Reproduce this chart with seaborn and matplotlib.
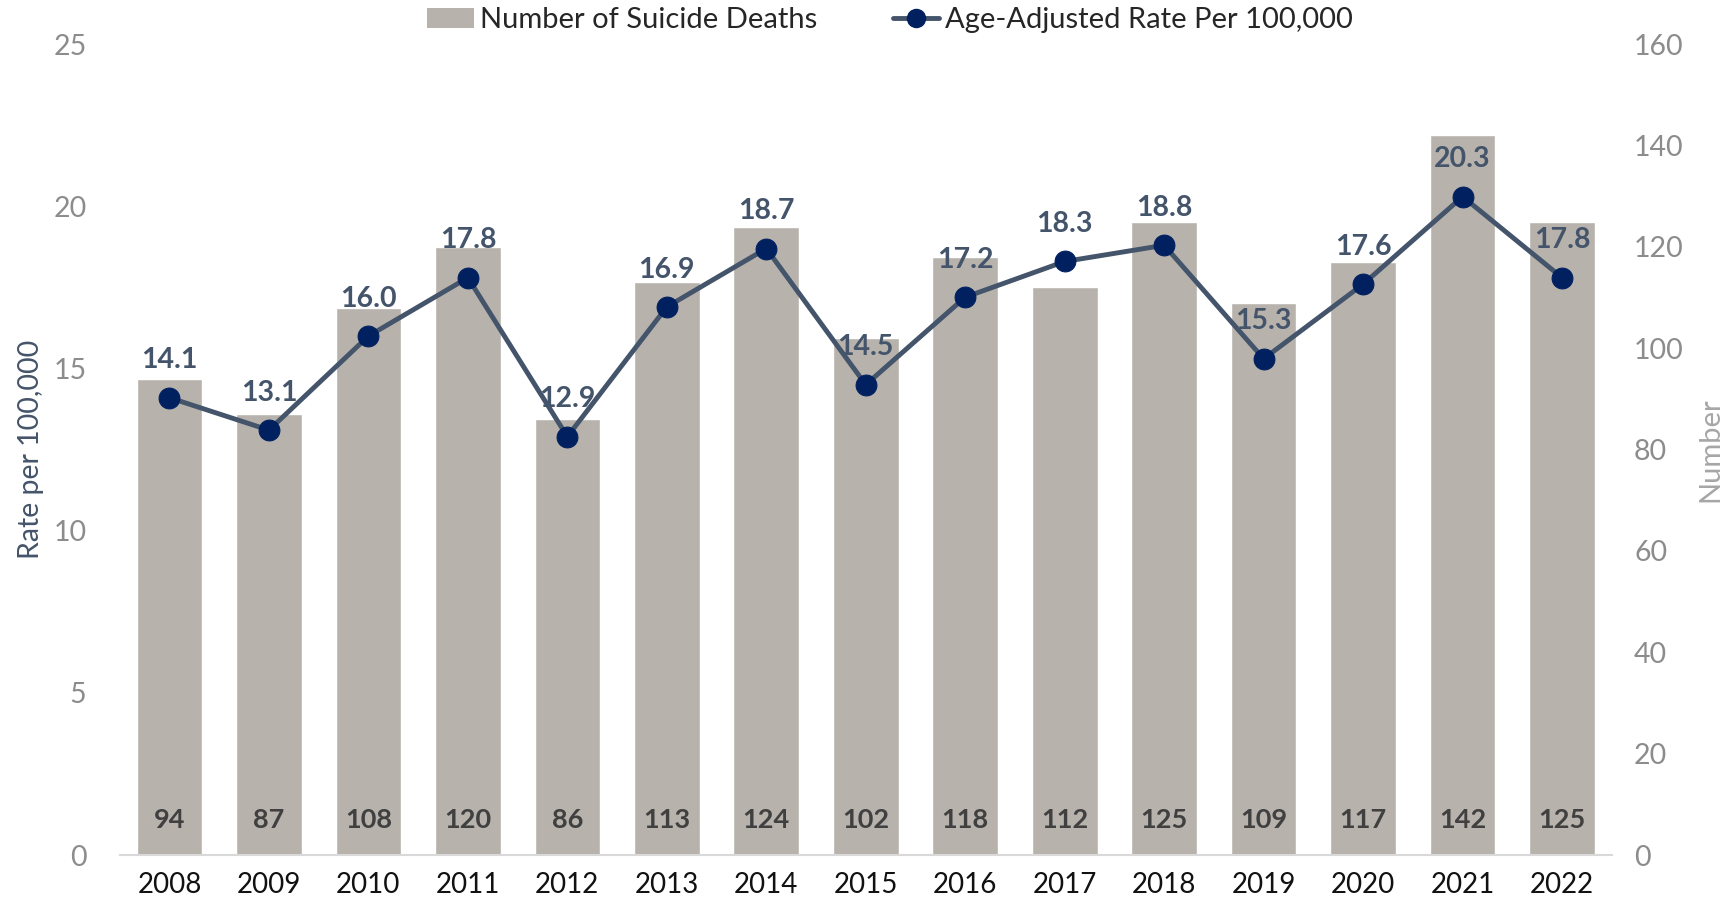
import numpy as np
import pandas as pd
import seaborn as sns
import matplotlib.pyplot as plt
from matplotlib.patches import Patch
from matplotlib.lines import Line2D

# Data
years = ['2008', '2009', '2010', '2011', '2012', '2013', '2014', '2015',
         '2016', '2017', '2018', '2019', '2020', '2021', '2022']
deaths = [94, 87, 108, 120, 86, 113, 124, 102, 118, 112, 125, 109, 117, 142, 125]
rates = [14.1, 13.1, 16.0, 17.8, 12.9, 16.9, 18.7, 14.5, 17.2, 18.3, 18.8,
         15.3, 17.6, 20.3, 17.8]

df = pd.DataFrame({'year': years, 'deaths': deaths, 'rate': rates})
df['pos'] = np.arange(len(df))

sns.set_style('white')
plt.rcParams['font.family'] = ['Lato', 'DejaVu Sans']

bar_col = '#B7B2AC'
line_col = '#44546A'
marker_col = '#002060'
tick_gray = '#8C8C8C'

fig = plt.figure(figsize=(17.35, 9.09), dpi=100)
ax_bar = fig.add_axes([0.069, 0.0594, 0.86, 0.892])

# Bars (number of deaths)
sns.barplot(data=df, x='year', y='deaths', color=bar_col, saturation=1,
            width=0.66, ax=ax_bar)
ax_bar.set_ylim(0, 160)
ax_bar.set_yticks(range(0, 161, 20))
ax_bar.set_xlabel('')
ax_bar.set_xlim(-0.5, len(df) - 0.5)
ax_bar.tick_params(axis='x', labelsize=20, colors='#111111', length=0, pad=12)

for i, v in enumerate(df['deaths']):
    ax_bar.text(i, 4.5, str(v), ha='center', va='bottom', fontsize=19.5,
                fontweight='bold', color='#404040')

# Line (rate)
ax_line = ax_bar.twinx()
sns.lineplot(data=df, x='pos', y='rate', color=line_col, linewidth=3.5,
             marker='o', markersize=15, markerfacecolor=marker_col,
             markeredgecolor=marker_col, ax=ax_line)
ax_line.set_ylim(0, 25)
ax_line.set_yticks(range(0, 26, 5))
ax_line.set_xlabel('')

for i, v in enumerate(df['rate']):
    ax_line.text(i, v + 0.75, f'{v:.1f}', ha='center', va='bottom', fontsize=20.5,
                 fontweight='bold', color=line_col)

# swap sides: rate on the left, number on the right (after twinx)
ax_line.yaxis.tick_left()
ax_bar.yaxis.tick_right()
ax_line.set_ylabel('Rate per 100,000', fontsize=20.5, color=line_col)
ax_bar.set_ylabel('Number', fontsize=21, color='#A6A6A6', rotation=90)
ax_line.yaxis.set_label_coords(-0.068, 0.5)
ax_bar.yaxis.set_label_coords(1.075, 0.5)
for a in (ax_bar, ax_line):
    for side in ('top', 'left', 'right'):
        a.spines[side].set_visible(False)
    a.spines['bottom'].set_color('#D9D9D9')
    a.spines['bottom'].set_linewidth(1.5)
ax_line.spines['bottom'].set_visible(False)
ax_line.tick_params(axis='y', labelsize=20.5, colors=tick_gray, length=0, pad=24)
ax_bar.tick_params(axis='y', labelsize=20.5, colors=tick_gray, length=0, pad=16)

handles = [
    Patch(facecolor=bar_col, edgecolor='none', label='Number of Suicide Deaths'),
    Line2D([0], [0], color=line_col, linewidth=3.5, marker='o', markersize=13,
           markerfacecolor=marker_col, markeredgecolor=marker_col,
           label='Age-Adjusted Rate Per 100,000'),
]
fig.legend(handles=handles, loc='center', bbox_to_anchor=(0.513, 0.978), ncol=2,
           frameon=False, fontsize=21, handlelength=1.6, handletextpad=0.2,
           columnspacing=2.6)

fig.savefig('out.png', dpi=100)
